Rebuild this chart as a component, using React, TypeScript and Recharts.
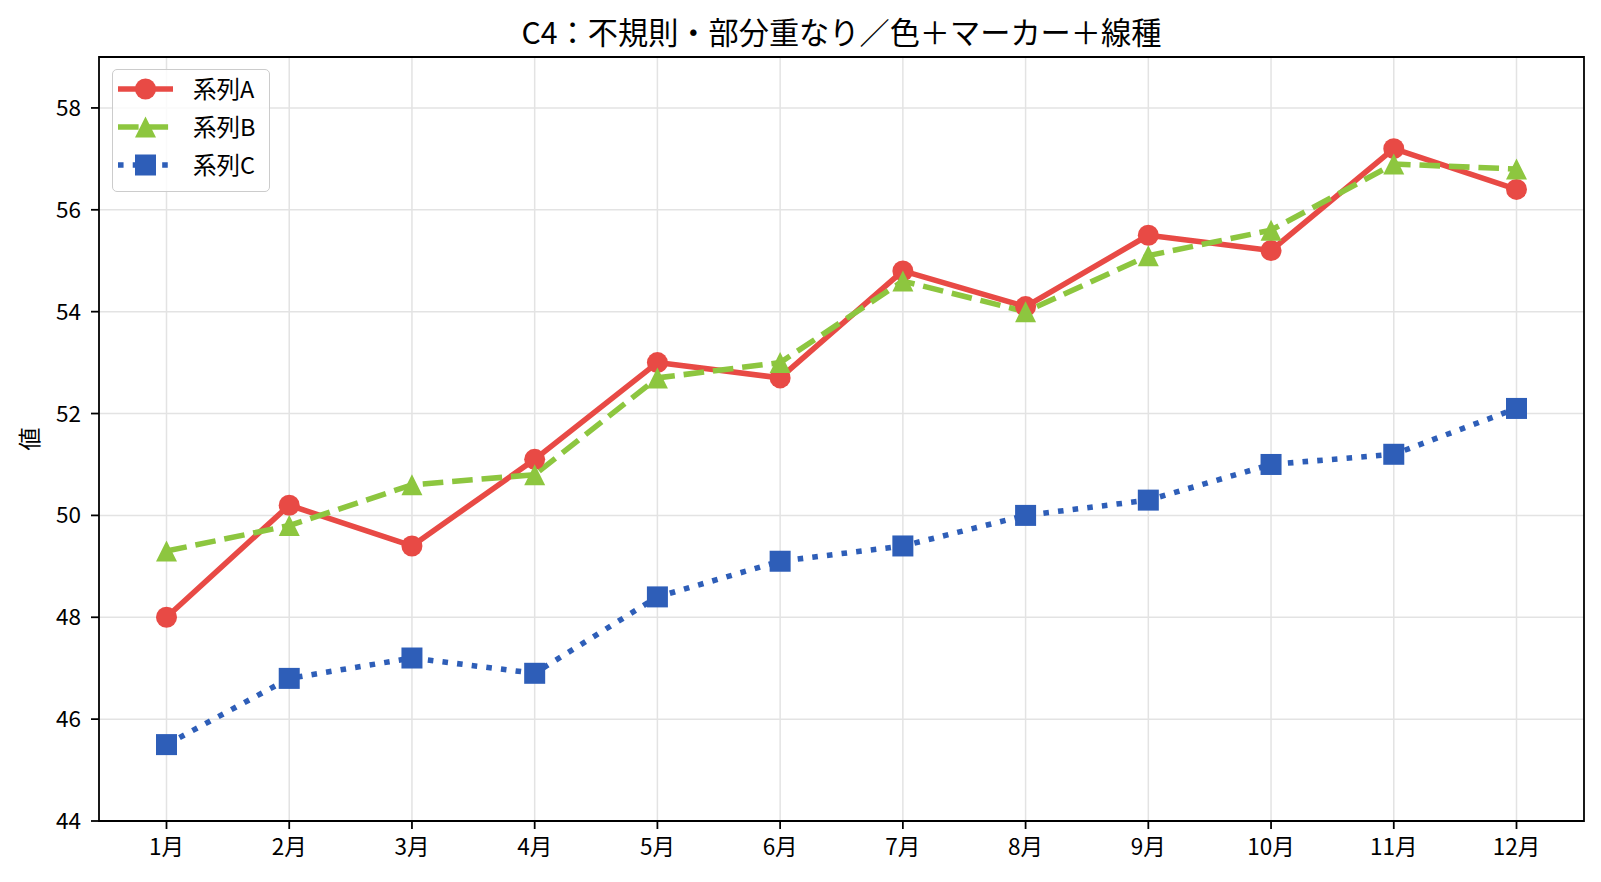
import React from 'react';
import { LineChart, Line, XAxis, YAxis, CartesianGrid, ReferenceArea, Legend } from 'recharts';

const months = ['1月', '2月', '3月', '4月', '5月', '6月', '7月', '8月', '9月', '10月', '11月', '12月'];
const seriesA = [48.0, 50.2, 49.4, 51.1, 53.0, 52.7, 54.8, 54.1, 55.5, 55.2, 57.2, 56.4];
const seriesB = [49.3, 49.8, 50.6, 50.8, 52.7, 53.0, 54.6, 54.0, 55.1, 55.6, 56.9, 56.8];
const seriesC = [45.5, 46.8, 47.2, 46.9, 48.4, 49.1, 49.4, 50.0, 50.3, 51.0, 51.2, 52.1];
const yTicks = [44, 46, 48, 50, 52, 54, 56, 58];
const xTicks = months.map((_, i) => i);
const seriesNames = ['系列A', '系列B', '系列C'];
const title = 'C4：不規則・部分重なり／色＋マーカー＋線種';
const yLabel = '値';

const data = months.map((m, i) => ({ idx: i, month: m, a: seriesA[i], b: seriesB[i], c: seriesC[i] }));

const RED = '#E84A45';
const GREEN = '#8DC63F';
const BLUE = '#2E5EB8';
const LW = 5.56;
const M = 10.5;
const FONT = '"Noto Sans CJK JP", "Noto Sans", sans-serif';
const DASH = '20.6 8.9';
const DOT = '5.56 9.17';

const circleShape = (cx: number, cy: number, key?: any) => <circle key={key} cx={cx} cy={cy} r={M} fill={RED} />;
const triShape = (cx: number, cy: number, key?: any) => (
  <path key={key} d={`M${cx},${cy - M}L${cx - M},${cy + M}L${cx + M},${cy + M}Z`} fill={GREEN} />
);
const sqShape = (cx: number, cy: number, key?: any) => (
  <rect key={key} x={cx - M} y={cy - M} width={2 * M} height={2 * M} fill={BLUE} />
);

const circleDot = (p: any) => circleShape(p.cx, p.cy, `a${p.index}`);
const triDot = (p: any) => triShape(p.cx, p.cy, `b${p.index}`);
const sqDot = (p: any) => sqShape(p.cx, p.cy, `c${p.index}`);

const legendItems = [
  { name: seriesNames[0], color: RED, dash: undefined as string | undefined, shape: circleShape },
  { name: seriesNames[1], color: GREEN, dash: DASH, shape: triShape },
  { name: seriesNames[2], color: BLUE, dash: DOT, shape: sqShape },
];

const LegendBox = () => (
  <div
    style={{
      boxSizing: 'border-box',
      width: 158,
      height: 123,
      border: '1.8px solid #cccccc',
      borderRadius: 5,
      background: 'rgba(255,255,255,0.8)',
      fontFamily: FONT,
      fontSize: 23.5,
      color: '#000',
      paddingLeft: 5,
      paddingTop: 0,
    }}
  >
    {legendItems.map((it) => (
      <div key={it.name} style={{ height: 38.3, display: 'flex', alignItems: 'center' }}>
        <svg width={55} height={26} style={{ display: 'block', overflow: 'visible' }}>
          <line x1={0} y1={13} x2={55} y2={13} stroke={it.color} strokeWidth={LW} strokeDasharray={it.dash} />
          {it.shape(27.5, 13)}
        </svg>
        <span style={{ marginLeft: 20, lineHeight: 1 }}>{it.name}</span>
      </div>
    ))}
  </div>
);

const YLabel = (props: any) => {
  const vb = props.viewBox || { x: 0, y: 0, height: 0 };
  const cx = 28;
  const cy = vb.y + vb.height / 2;
  return (
    <text
      x={cx}
      y={cy}
      transform={`rotate(-90 ${cx} ${cy})`}
      textAnchor="middle"
      dominantBaseline="central"
      fontSize={23}
      fontFamily={FONT}
      fill="#000"
    >
      {yLabel}
    </text>
  );
};

export default function App() {
  return (
    <div style={{ position: 'absolute', left: 0, top: 0, width: 1601, height: 882, background: '#fff' }}>
      <div
        style={{
          position: 'absolute',
          left: 99,
          width: 1485,
          top: 16,
          textAlign: 'center',
          fontFamily: FONT,
          fontSize: 30.2,
          lineHeight: 1,
          color: '#000',
          whiteSpace: 'nowrap',
        }}
      >
        {title}
      </div>
      <LineChart width={1601} height={882} data={data} margin={{ top: 57, right: 17, bottom: 0, left: 0 }}>
        <CartesianGrid stroke="#e3e3e3" strokeWidth={1.5} />
        <XAxis
          type="number"
          dataKey="idx"
          domain={[-0.55, 11.55]}
          ticks={xTicks}
          interval={0}
          tickFormatter={(v: number) => months[v]}
          axisLine={false}
          tickLine={{ stroke: '#000', strokeWidth: 1.78 }}
          tickSize={8}
          tickMargin={10}
          height={61}
          tick={{ fill: '#000', fontSize: 22.5, fontFamily: FONT }}
        />
        <YAxis
          type="number"
          domain={[44, 59]}
          ticks={yTicks}
          interval={0}
          axisLine={false}
          tickLine={{ stroke: '#000', strokeWidth: 1.78 }}
          tickSize={8}
          tickMargin={10}
          width={99}
          tick={{ fill: '#000', fontSize: 22.5, fontFamily: FONT }}
          label={<YLabel />}
        />
        <Legend
          layout="horizontal"
          verticalAlign="middle"
          align="center"
          content={() => <LegendBox />}
          wrapperStyle={{ position: 'absolute', left: 112, top: 68.5, width: 'auto', height: 'auto', margin: 0 }}
        />
        <Line
          type="linear"
          dataKey="a"
          stroke={RED}
          strokeWidth={LW}
          strokeLinejoin="round"
          dot={circleDot}
          activeDot={false}
          isAnimationActive={false}
        />
        <Line
          type="linear"
          dataKey="b"
          stroke={GREEN}
          strokeWidth={LW}
          strokeDasharray={DASH}
          strokeLinejoin="round"
          dot={triDot}
          activeDot={false}
          isAnimationActive={false}
        />
        <Line
          type="linear"
          dataKey="c"
          stroke={BLUE}
          strokeWidth={LW}
          strokeDasharray={DOT}
          strokeLinejoin="round"
          dot={sqDot}
          activeDot={false}
          isAnimationActive={false}
        />
        <ReferenceArea
          x1={-0.55}
          x2={11.55}
          y1={44}
          y2={59}
          fill="none"
          fillOpacity={0}
          stroke="#000"
          strokeWidth={1.78}
          ifOverflow="visible"
        />
      </LineChart>
    </div>
  );
}
